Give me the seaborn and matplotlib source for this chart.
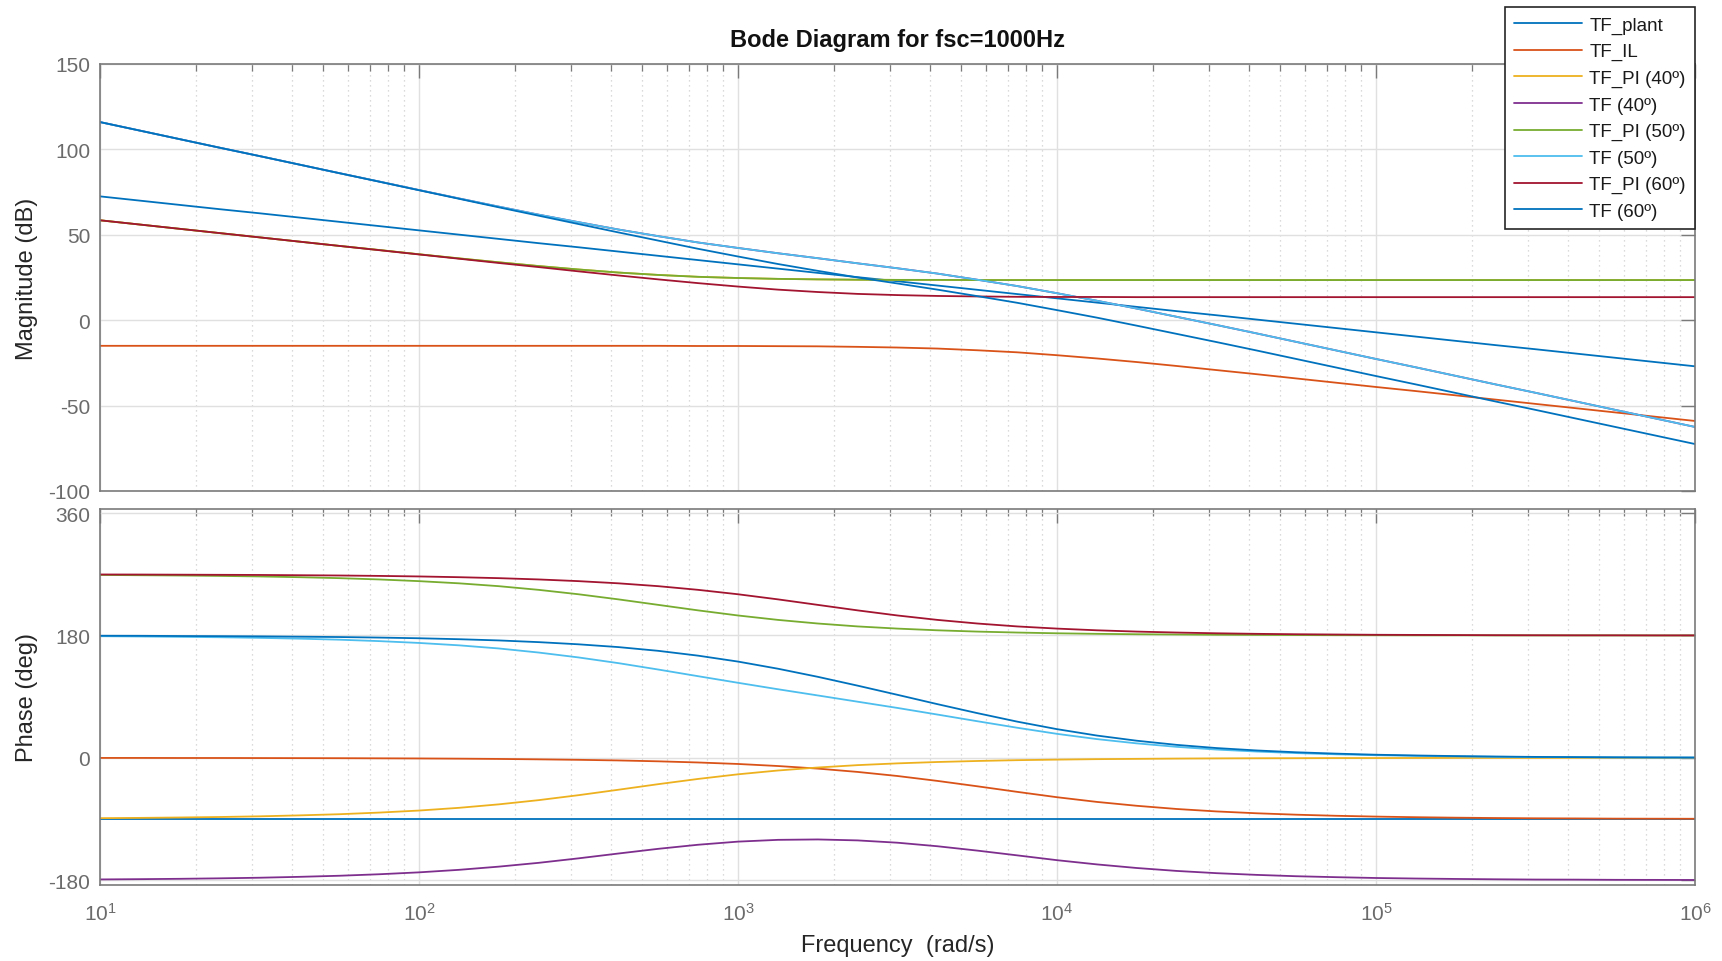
import numpy as np
import pandas as pd
import seaborn as sns
import matplotlib
matplotlib.use("Agg")
import matplotlib.pyplot as plt
from matplotlib.ticker import LogLocator, FixedLocator, NullFormatter

# Frequency grid (rad/s), eighth-decade steps from 10 to 1e6
freq = [10.0, 13.34, 17.78, 23.71, 31.62, 42.17, 56.23, 74.99,
        100.0, 133.4, 177.8, 237.1, 316.2, 421.7, 562.3, 749.9,
        1000.0, 1334.0, 1778.0, 2371.0, 3162.0, 4217.0, 5623.0, 7499.0,
        10000.0, 13335.0, 17783.0, 23714.0, 31623.0, 42170.0, 56234.0, 74989.0,
        1.0e5, 1.3335e5, 1.778e5, 2.3714e5, 3.162e5, 4.217e5, 5.623e5, 7.499e5,
        1.0e6]

series_names = ["TF_plant", "TF_IL", "TF_PI (40º)", "TF (40º)",
                "TF_PI (50º)", "TF (50º)", "TF_PI (60º)", "TF (60º)"]

# Magnitude (dB)
mag_plant = [72.5, 70.0, 67.5, 65.0, 62.6, 60.1, 57.6, 55.1,
             52.6, 50.1, 47.6, 45.1, 42.7, 40.2, 37.7, 35.2,
             32.7, 30.2, 27.7, 25.2, 22.8, 20.3, 17.8, 15.3,
             12.8, 10.3, 7.8, 5.3, 2.9, 0.4, -2.1, -4.6,
             -7.1, -9.6, -12.1, -14.6, -17.0, -19.5, -22.0, -24.5,
             -27.0]
mag_il = [-15.0, -15.0, -15.0, -15.0, -15.0, -15.0, -15.0, -15.0,
          -15.0, -15.0, -15.0, -15.0, -15.0, -15.0, -15.0, -15.1,
          -15.1, -15.2, -15.3, -15.6, -16.0, -16.6, -17.6, -18.8,
          -20.5, -22.4, -24.5, -26.8, -29.2, -31.6, -34.1, -36.6,
          -39.1, -41.5, -44.0, -46.5, -49.0, -51.5, -54.0, -56.5,
          -59.0]
mag_pi40 = [58.5, 56.0, 53.5, 51.0, 48.5, 46.0, 43.5, 41.1,
            38.6, 36.2, 33.9, 31.7, 29.7, 27.9, 26.5, 25.4,
            24.7, 24.2, 23.9, 23.7, 23.6, 23.6, 23.5, 23.5,
            23.5, 23.5, 23.5, 23.5, 23.5, 23.5, 23.5, 23.5,
            23.5, 23.5, 23.5, 23.5, 23.5, 23.5, 23.5, 23.5,
            23.5]
mag_tf40 = [116.0, 111.0, 106.0, 101.0, 96.1, 91.1, 86.1, 81.2,
            76.2, 71.3, 66.5, 61.8, 57.4, 53.1, 49.2, 45.5,
            42.3, 39.2, 36.3, 33.3, 30.4, 27.3, 23.7, 20.0,
            15.8, 11.4, 6.8, 2.0, -2.8, -7.7, -12.7, -17.7,
            -22.7, -27.6, -32.6, -37.6, -42.5, -47.5, -52.5, -57.5,
            -62.5]
mag_pi50 = [58.5, 56.0, 53.5, 51.0, 48.5, 46.0, 43.5, 41.1,
            38.6, 36.2, 33.9, 31.7, 29.7, 27.9, 26.5, 25.4,
            24.7, 24.2, 23.9, 23.7, 23.6, 23.6, 23.5, 23.5,
            23.5, 23.5, 23.5, 23.5, 23.5, 23.5, 23.5, 23.5,
            23.5, 23.5, 23.5, 23.5, 23.5, 23.5, 23.5, 23.5,
            23.5]
mag_tf50 = [116.0, 111.0, 106.0, 101.0, 96.1, 91.1, 86.1, 81.2,
            76.2, 71.3, 66.5, 61.8, 57.4, 53.1, 49.2, 45.5,
            42.3, 39.2, 36.3, 33.3, 30.4, 27.3, 23.7, 20.0,
            15.8, 11.4, 6.8, 2.0, -2.8, -7.7, -12.7, -17.7,
            -22.7, -27.6, -32.6, -37.6, -42.5, -47.5, -52.5, -57.5,
            -62.5]
mag_pi60 = [58.5, 56.0, 53.5, 51.0, 48.5, 46.0, 43.5, 41.0,
            38.5, 36.0, 33.5, 31.1, 28.6, 26.2, 23.9, 21.7,
            19.7, 17.9, 16.5, 15.4, 14.7, 14.2, 13.9, 13.7,
            13.6, 13.6, 13.5, 13.5, 13.5, 13.5, 13.5, 13.5,
            13.5, 13.5, 13.5, 13.5, 13.5, 13.5, 13.5, 13.5,
            13.5]
mag_tf60 = [116.0, 111.0, 106.0, 101.0, 96.1, 91.1, 86.1, 81.1,
            76.1, 71.1, 66.1, 61.2, 56.3, 51.4, 46.6, 41.8,
            37.3, 32.9, 28.9, 25.0, 21.5, 17.9, 14.1, 10.2,
            5.9, 1.5, -3.2, -8.0, -12.8, -17.7, -22.7, -27.7,
            -32.7, -37.6, -42.6, -47.6, -52.5, -57.5, -62.5, -67.5,
            -72.5]

# Phase (deg)
ph_plant = [-90.0] * 41
ph_il = [-0.1, -0.1, -0.2, -0.2, -0.3, -0.4, -0.5, -0.7,
         -0.9, -1.2, -1.6, -2.2, -2.9, -3.8, -5.1, -6.8,
         -9.0, -12.0, -15.8, -20.7, -26.7, -33.9, -41.8, -50.0,
         -57.9, -64.8, -70.5, -75.2, -78.8, -81.5, -83.6, -85.2,
         -86.4, -87.3, -88.0, -88.5, -88.9, -89.1, -89.4, -89.5,
         -89.6]
ph_pi40 = [-88.7, -88.3, -87.7, -87.0, -86.0, -84.6, -82.9, -80.5,
           -77.5, -73.5, -68.4, -62.2, -54.9, -46.9, -38.7, -31.0,
           -24.2, -18.6, -14.2, -10.7, -8.1, -6.1, -4.6, -3.4,
           -2.6, -1.9, -1.5, -1.1, -0.8, -0.6, -0.5, -0.3,
           -0.3, -0.2, -0.1, -0.1, -0.1, 0.0, 0.0, 0.0,
           0.0]
ph_tf40 = [-178.8, -178.4, -177.9, -177.2, -176.3, -175.0, -173.4, -171.2,
           -168.4, -164.7, -160.0, -154.4, -147.8, -140.7, -133.8, -127.8,
           -123.2, -120.6, -120.0, -121.4, -124.8, -130.0, -136.4, -143.4,
           -150.5, -156.7, -162.0, -166.3, -169.6, -172.1, -174.1, -175.5,
           -176.7, -177.5, -178.1, -178.6, -179.0, -179.1, -179.4, -179.5,
           -179.6]
ph_pi50 = [269.0, 268.6, 268.2, 267.6, 266.8, 265.7, 264.3, 262.4,
           259.9, 256.7, 252.5, 247.1, 240.6, 233.1, 225.0, 216.9,
           209.4, 202.9, 197.6, 193.3, 190.1, 187.6, 185.7, 184.3,
           183.2, 182.4, 181.8, 181.4, 181.0, 180.8, 180.6, 180.4,
           180.3, 180.2, 180.2, 180.1, 180.1, 180.1, 180.1, 180.0,
           180.0]
ph_tf50 = [178.9, 178.5, 178.0, 177.4, 176.5, 175.3, 173.8, 171.7,
           169.0, 165.5, 160.9, 154.9, 147.7, 139.3, 129.9, 120.1,
           110.4, 100.9, 91.8, 82.6, 73.4, 63.7, 53.9, 44.3,
           35.3, 27.6, 21.3, 16.2, 12.2, 9.3, 7.0, 5.2,
           3.9, 2.9, 2.2, 1.6, 1.2, 1.0, 0.7, 0.5,
           0.4]
ph_pi60 = [269.7, 269.6, 269.4, 269.2, 269.0, 268.6, 268.2, 267.6,
           266.8, 265.7, 264.3, 262.4, 259.9, 256.7, 252.5, 247.1,
           240.6, 233.1, 225.0, 216.9, 209.4, 202.9, 197.6, 193.3,
           190.1, 187.6, 185.7, 184.3, 183.2, 182.4, 181.8, 181.4,
           181.0, 180.8, 180.6, 180.4, 180.3, 180.2, 180.2, 180.1,
           180.1]
ph_tf60 = [179.6, 179.5, 179.2, 179.0, 178.7, 178.2, 177.7, 176.9,
           175.9, 174.5, 172.7, 170.2, 167.0, 162.9, 157.4, 150.3,
           141.6, 131.1, 119.2, 106.2, 92.7, 79.0, 65.8, 53.3,
           42.2, 32.8, 25.2, 19.1, 14.4, 10.9, 8.2, 6.2,
           4.6, 3.5, 2.6, 1.9, 1.4, 1.1, 0.8, 0.6,
           0.5]

colors = ["#0072BD", "#D95319", "#EDB120", "#7E2F8E",
          "#77AC30", "#4DBEEE", "#A2142F", "#0072BD"]

mags = [mag_plant, mag_il, mag_pi40, mag_tf40, mag_pi50, mag_tf50, mag_pi60, mag_tf60]
phases = [ph_plant, ph_il, ph_pi40, ph_tf40, ph_pi50, ph_tf50, ph_pi60, ph_tf60]

rows = []
for name, m, p in zip(series_names, mags, phases):
    for f, mv, pv in zip(freq, m, p):
        rows.append({"w": f, "series": name, "mag": mv, "phase": pv})
df = pd.DataFrame(rows)

sns.set_theme(style="white")
plt.rcParams["font.family"] = ["Liberation Sans", "DejaVu Sans"]
plt.rcParams["mathtext.fontset"] = "custom"
plt.rcParams["mathtext.rm"] = "Liberation Sans"
plt.rcParams["mathtext.it"] = "Liberation Sans:italic"
plt.rcParams["mathtext.default"] = "regular"
plt.rcParams["axes.unicode_minus"] = False

W, H = 1722, 962
fig = plt.figure(figsize=(W / 100, H / 100), dpi=100)
left, right = 100, 1695
ax_mag = fig.add_axes([left / W, 1 - 492 / H, (right - left) / W, (492 - 65) / H])
ax_ph = fig.add_axes([left / W, 1 - 886 / H, (right - left) / W, (886 - 510) / H])

palette = dict(zip(series_names, colors))
sns.lineplot(data=df, x="w", y="mag", hue="series", hue_order=series_names,
             palette=palette, estimator=None, sort=False, linewidth=1.3,
             ax=ax_mag, legend=True)
sns.lineplot(data=df, x="w", y="phase", hue="series", hue_order=series_names,
             palette=palette, estimator=None, sort=False, linewidth=1.3,
             ax=ax_ph, legend=False)

spine_c = "#7a7a7a"
label_c = "#6b6b6b"
for ax in (ax_mag, ax_ph):
    ax.set_xscale("log")
    ax.set_xlim(10, 1e6)
    ax.xaxis.set_major_locator(LogLocator(base=10, numticks=10))
    ax.xaxis.set_minor_locator(LogLocator(base=10, subs=np.arange(2, 10), numticks=100))
    ax.xaxis.set_minor_formatter(NullFormatter())
    ax.grid(True, which="major", color="#e0e0e0", linewidth=1.0, linestyle="-")
    ax.grid(True, which="minor", axis="x", color="#cfcfcf", linewidth=0.9,
            linestyle=(0, (1, 3)))
    ax.set_axisbelow(True)
    for s in ax.spines.values():
        s.set_color(spine_c)
        s.set_linewidth(1.2)
        s.set_visible(True)
    ax.tick_params(which="both", direction="in", top=True, right=True,
                   color=spine_c, labelcolor=label_c, labelsize=15)
    ax.tick_params(which="major", length=10, width=1.0)
    ax.tick_params(which="minor", length=5, width=0.9)
    ax.tick_params(axis="y", which="minor", length=0)
    ax.set_xlabel("")
    ax.set_ylabel("")

ax_mag.set_ylim(-100, 150)
ax_mag.yaxis.set_major_locator(FixedLocator([-100, -50, 0, 50, 100, 150]))
ax_mag.tick_params(axis="x", which="both", labelbottom=False)
ax_mag.tick_params(axis="y", pad=7)

ax_ph.set_ylim(-187, 366)
ax_ph.yaxis.set_major_locator(FixedLocator([-180, 0, 180, 360]))
ax_ph.tick_params(axis="y", pad=7)
ax_ph.tick_params(axis="x", pad=12)

ax_mag.set_ylabel("Magnitude (dB)", fontsize=17, color="#262626", va="center")
ax_mag.yaxis.set_label_coords(-(100 - 27) / (right - left), 0.5)
ax_ph.set_ylabel("Phase (deg)", fontsize=17, color="#262626", va="center")
ax_ph.yaxis.set_label_coords(-(100 - 27) / (right - left), 0.5)
ax_ph.set_xlabel("Frequency  (rad/s)", fontsize=17, color="#262626", va="center")
ax_ph.xaxis.set_label_coords(0.5, -(946 - 886) / (886 - 510))

ax_mag.set_title("Bode Diagram for fsc=1000Hz", fontsize=17, fontweight="bold",
                 color="#111111", y=1 + (65 - 40) / (492 - 65), pad=0, va="center")

handles, labels = ax_mag.get_legend_handles_labels()
ax_mag.get_legend().remove()
leg = fig.legend(handles, labels, loc="upper right",
                 bbox_to_anchor=(1695 / W, 1 - 8 / H), frameon=True,
                 fancybox=False, shadow=False, framealpha=1.0, fontsize=13.5,
                 handlelength=3.6, handletextpad=0.4, labelspacing=0.5,
                 borderpad=0.5, borderaxespad=0.0)
leg.get_frame().set_edgecolor("#262626")
leg.get_frame().set_linewidth(1.2)
for t in leg.get_texts():
    t.set_color("#1a1a1a")
for l in leg.get_lines():
    l.set_linewidth(1.3)

fig.savefig("out.png", dpi=100, facecolor="white")
